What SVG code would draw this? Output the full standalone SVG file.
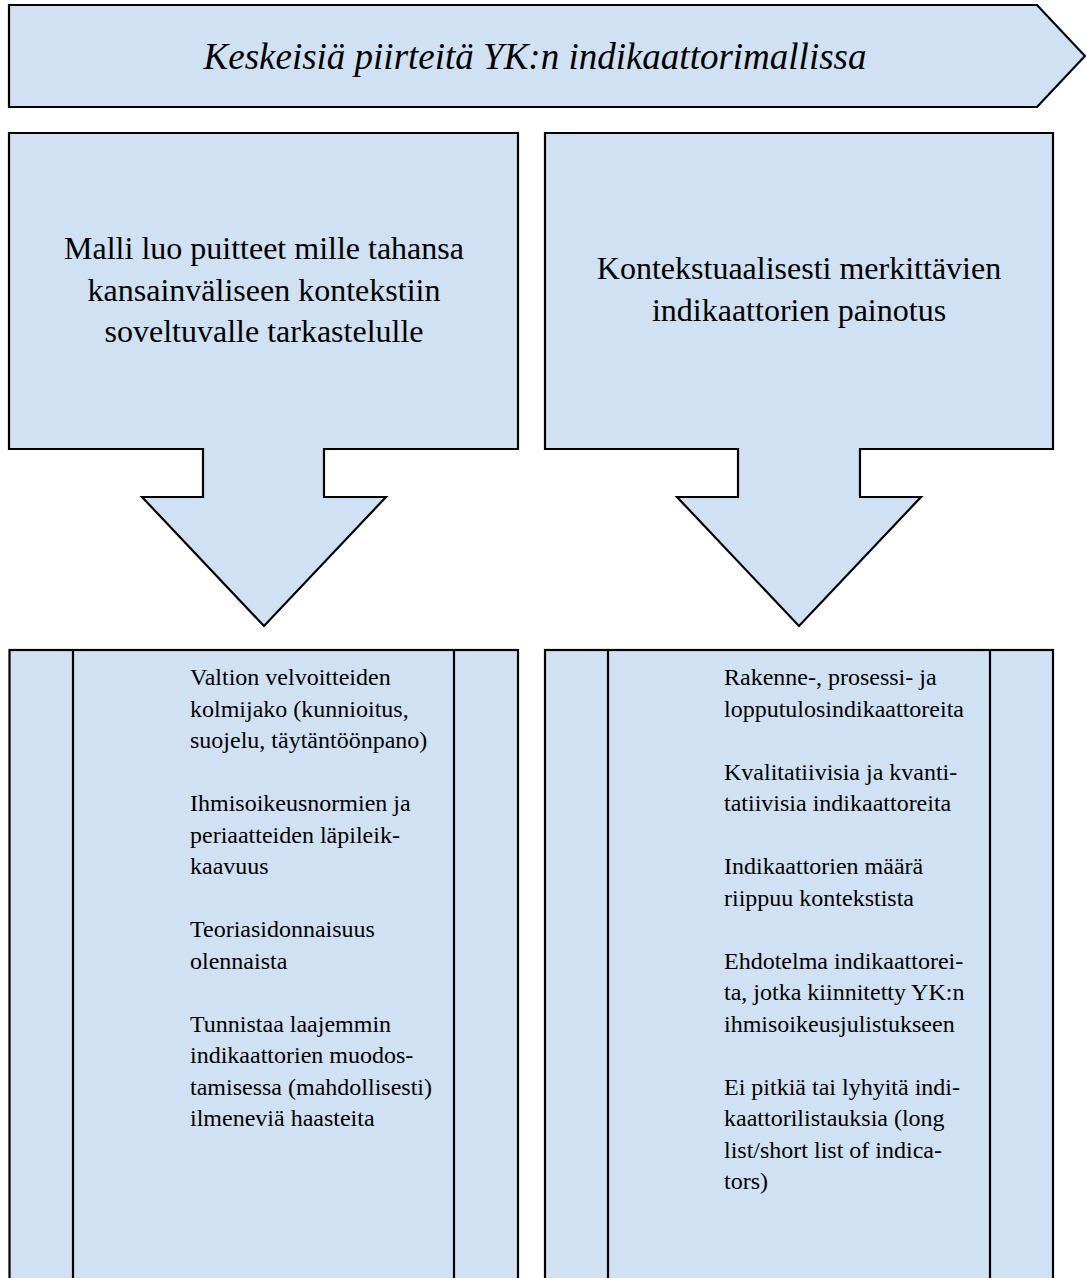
<svg xmlns="http://www.w3.org/2000/svg" width="1086" height="1278" viewBox="0 0 1086 1278">
<style>
.shape{fill:#cfe1f2;stroke:#000;stroke-width:2.2;stroke-linejoin:miter}
.line{stroke:#000;stroke-width:2.2;fill:none}
.t{font-family:"Liberation Serif","Times New Roman",serif;fill:#000}
.banner{font-size:37px;font-style:italic}
.big{font-size:32px}
.small{font-size:24px}
</style>
<rect width="1086" height="1278" fill="#fff"/>
<g id="banner">
<polygon class="shape" points="9,5 1037,5 1085,56 1037,107 9,107"/>
<text class="t banner" x="535" y="69" text-anchor="middle">Keskeisiä piirteitä YK:n indikaattorimallissa</text>
</g>
<g id="left-arrow">
<polygon class="shape" points="9,133 518,133 518,449 324,449 324,497 386,497 264,626 142,497 203,497 203,449 9,449"/>
<text class="t big" text-anchor="middle"><tspan x="264" y="259">Malli luo puitteet mille tahansa</tspan><tspan x="264" y="300.5">kansainväliseen kontekstiin</tspan><tspan x="264" y="342">soveltuvalle tarkastelulle</tspan></text>
</g>
<g id="right-arrow">
<polygon class="shape" points="545,133 1053,133 1053,449 860,449 860,497 921,497 799,626 677,497 738,497 738,449 545,449"/>
<text class="t big" text-anchor="middle"><tspan x="799" y="279">Kontekstuaalisesti merkittävien</tspan><tspan x="799" y="321">indikaattorien painotus</tspan></text>
</g>
<g id="left-list">
<rect class="shape" x="9.5" y="650" width="508.5" height="640"/>
<line class="line" x1="73" y1="650" x2="73" y2="1290"/>
<line class="line" x1="454" y1="650" x2="454" y2="1290"/>
<text class="t small">
<tspan x="190" y="685">Valtion velvoitteiden</tspan>
<tspan x="190" y="716.5">kolmijako (kunnioitus,</tspan>
<tspan x="190" y="748">suojelu, täytäntöönpano)</tspan>
<tspan x="190" y="811">Ihmisoikeusnormien ja</tspan>
<tspan x="190" y="842.5">periaatteiden läpileik-</tspan>
<tspan x="190" y="874">kaavuus</tspan>
<tspan x="190" y="937">Teoriasidonnaisuus</tspan>
<tspan x="190" y="968.5">olennaista</tspan>
<tspan x="190" y="1031.5">Tunnistaa laajemmin</tspan>
<tspan x="190" y="1063">indikaattorien muodos-</tspan>
<tspan x="190" y="1094.5">tamisessa (mahdollisesti)</tspan>
<tspan x="190" y="1126">ilmeneviä haasteita</tspan>
</text>
</g>
<g id="right-list">
<rect class="shape" x="545" y="650" width="508" height="640"/>
<line class="line" x1="608" y1="650" x2="608" y2="1290"/>
<line class="line" x1="990" y1="650" x2="990" y2="1290"/>
<text class="t small">
<tspan x="724" y="685">Rakenne-, prosessi- ja</tspan>
<tspan x="724" y="716.5">lopputulosindikaattoreita</tspan>
<tspan x="724" y="779.5">Kvalitatiivisia ja kvanti-</tspan>
<tspan x="724" y="811">tatiivisia indikaattoreita</tspan>
<tspan x="724" y="874">Indikaattorien määrä</tspan>
<tspan x="724" y="905.5">riippuu kontekstista</tspan>
<tspan x="724" y="968.5">Ehdotelma indikaattorei-</tspan>
<tspan x="724" y="1000">ta, jotka kiinnitetty YK:n</tspan>
<tspan x="724" y="1031.5">ihmisoikeusjulistukseen</tspan>
<tspan x="724" y="1094.5">Ei pitkiä tai lyhyitä indi-</tspan>
<tspan x="724" y="1126">kaattorilistauksia (long</tspan>
<tspan x="724" y="1157.5">list/short list of indica-</tspan>
<tspan x="724" y="1189">tors)</tspan>
</text>
</g>
<g id="connectors"></g>
</svg>
